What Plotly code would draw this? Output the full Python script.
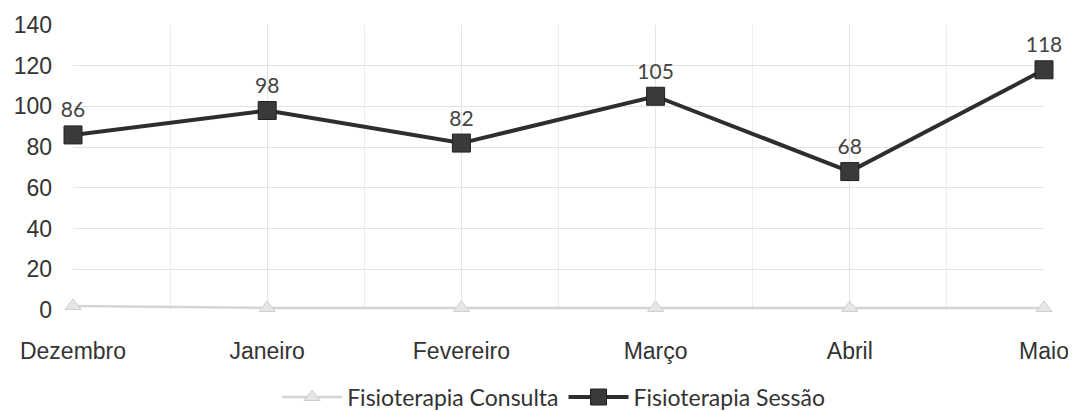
import plotly.graph_objects as go

months = ["Dezembro", "Janeiro", "Fevereiro", "Março", "Abril", "Maio"]
sessao = [86, 98, 82, 105, 68, 118]
consulta = [2, 1, 1, 1, 1, 1]
y_ticks = [0, 20, 40, 60, 80, 100, 120, 140]

xpos = list(range(len(months)))

fig = go.Figure()
fig.add_trace(go.Scatter(
    x=xpos, y=consulta, name="Fisioterapia Consulta", mode="lines+markers",
    line=dict(color="#d4d4d4", width=2.5),
    marker=dict(symbol="triangle-up", size=14, color="#e6e6e6",
                line=dict(color="#cfcfcf", width=1)),
    cliponaxis=False,
))
fig.add_trace(go.Scatter(
    x=xpos, y=sessao, name="Fisioterapia Sessão", mode="lines+markers+text",
    text=[str(v) for v in sessao], textposition="top center",
    textfont=dict(family="Lato, Open Sans, sans-serif", size=21, color="#444444"),
    line=dict(color="#2e2e2e", width=4),
    marker=dict(symbol="square", size=18, color="#3a3a3a",
                line=dict(color="#222222", width=1)),
    cliponaxis=False,
))

fig.update_layout(
    width=1076, height=412,
    margin=dict(l=65, r=40, t=17, b=110, autoexpand=False),
    paper_bgcolor="white", plot_bgcolor="white",
    showlegend=True,
    legend=dict(orientation="h", x=0.495, xanchor="center", y=-0.23, yanchor="top",
                itemwidth=60,
                font=dict(family="Lato, Open Sans, sans-serif", size=23, color="#333333")),
    xaxis=dict(
        range=[0, 5], tickvals=xpos, ticktext=months, automargin=False,
        showgrid=True, gridcolor="#e4e4e4", gridwidth=1,
        minor=dict(dtick=0.5, tick0=0, showgrid=True, gridcolor="#ececec"),
        zeroline=False, showline=False, ticks="",
        ticklabelstandoff=25,
        tickfont=dict(family="Liberation Sans, Arial, sans-serif", size=23, color="#333333"),
    ),
    yaxis=dict(
        range=[0, 140], tickvals=y_ticks, automargin=False,
        showgrid=True, gridcolor="#e2e2e2", gridwidth=1,
        zeroline=False, showline=False, ticks="",
        ticklabelstandoff=20,
        tickfont=dict(family="Liberation Sans, Arial, sans-serif", size=23, color="#333333"),
    ),
)

fig.write_html("out.html")
